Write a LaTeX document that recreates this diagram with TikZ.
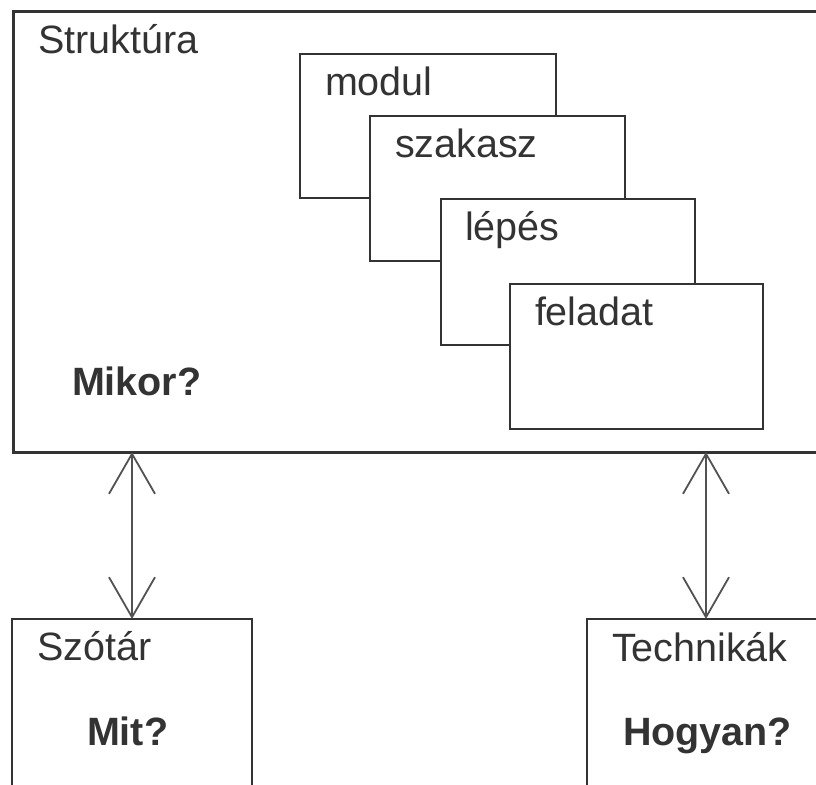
\documentclass[tikz,border=0pt]{standalone}
\usepackage{fontspec}
\setmainfont{Liberation Sans}
\usetikzlibrary{arrows.meta}
\definecolor{ink}{HTML}{333333}
\begin{document}
\begin{tikzpicture}[x=1pt,y=-1pt,
  every node/.style={inner sep=0pt, outer sep=0pt},
  frame/.style={draw=ink, fill=white, anchor=north west, line width=#1},
  frame/.default=1.6pt,
  label/.style={anchor=base west, text=ink, font=\fontsize{39.5}{41}\selectfont},
  heavy/.style={label, font=\fontsize{39.5}{41}\selectfont\bfseries},
  link/.style={draw=ink!85, line width=1.8pt,
    {Straight Barb[length=40pt,width=46pt,line width=1.8pt]}-{Straight Barb[length=40pt,width=46pt,line width=1.8pt]}}
]
\useasboundingbox (0,0) rectangle (816,784);
\clip (0,0) rectangle (816,784);

% outer structure frame
\node[frame=3pt, minimum width=820pt, minimum height=440pt] (struct) at (13,12) {};
\node[label] (tstruct) at (38,53) {Struktúra};
\node[heavy] (tmikor) at (72,395) {Mikor?};

% stacked levels
\node[frame, minimum width=256pt, minimum height=144pt] (modul) at (300,54) {};
\node[label] (tmodul) at (325,95) {modul};
\node[frame, minimum width=255pt, minimum height=145pt] (szakasz) at (370,116) {};
\node[label] (tszakasz) at (395,157) {szakasz};
\node[frame, minimum width=254pt, minimum height=146pt] (lepes) at (441,199) {};
\node[label] (tlepes) at (465,240) {lépés};
\node[frame, minimum width=253pt, minimum height=145pt] (feladat) at (510,284) {};
\node[label] (tfeladat) at (535,325) {feladat};

% lower boxes
\node[frame=2pt, minimum width=240pt, minimum height=200pt] (szotar) at (12,619) {};
\node[label] (tszotar) at (37,660) {Szótár};
\node[heavy] (tmit) at (87,745) {Mit?};
\node[frame=2pt, minimum width=238pt, minimum height=200pt] (tech) at (587,619) {};
\node[label] (ttech) at (612,661) {Technikák};
\node[heavy] (thogyan) at (623,745) {Hogyan?};

% two-way links
\draw[link] (szotar.north |- struct.south) -- (szotar.north);
\draw[link] (tech.north |- struct.south) -- (tech.north);
\end{tikzpicture}
\end{document}
